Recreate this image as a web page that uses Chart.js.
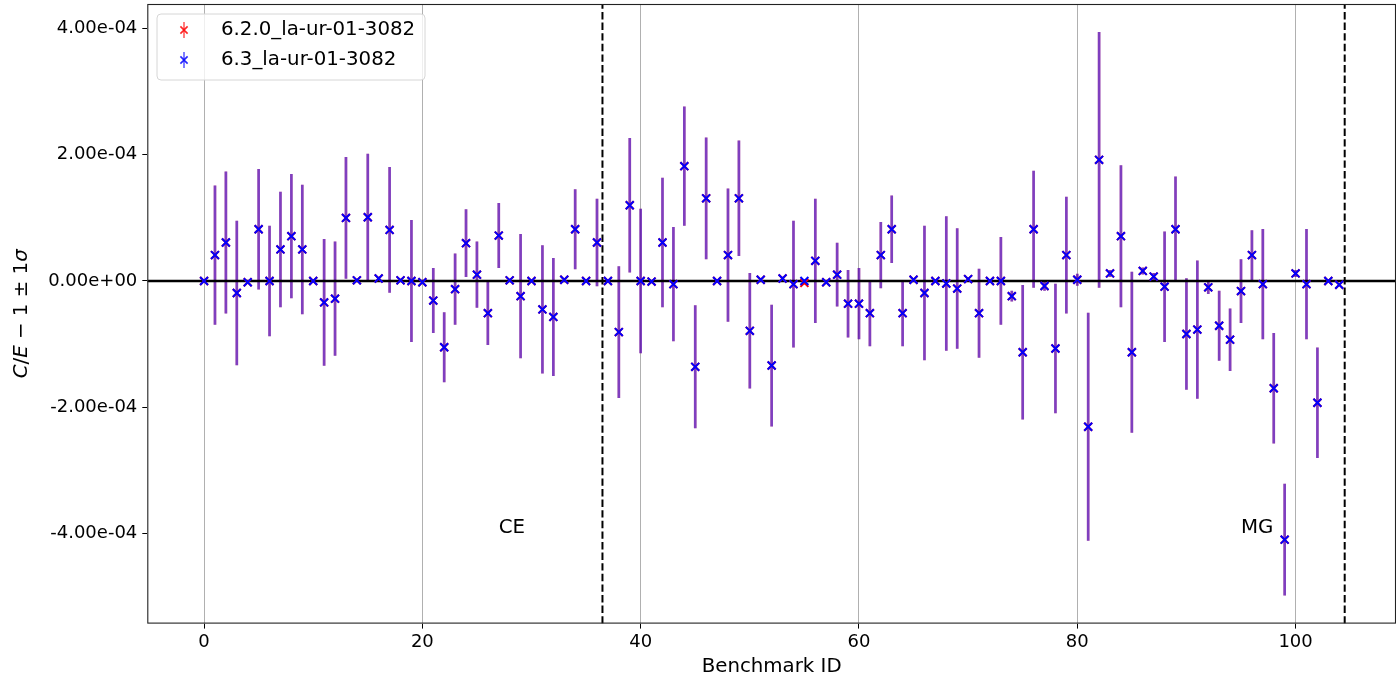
<!DOCTYPE html>
<html>
<head>
<meta charset="utf-8">
<script src="https://cdn.jsdelivr.net/npm/chart.js@4.4.1/dist/chart.umd.min.js"></script>
<style>
html,body{margin:0;padding:0;background:#ffffff;}
#wrap{width:1396px;height:679px;position:relative;}
</style>
</head>
<body>
<div id="wrap"><canvas id="c" width="1396" height="679"></canvas></div>
<script>
// ---------------- data ----------------
const benchmarkIds = [0,1,2,3,4,5,6,7,8,9,10,11,12,13,14,15,16,17,18,19,20,21,22,23,24,25,26,27,28,29,30,31,32,33,34,35,36,37,38,39,40,41,42,43,44,45,46,47,48,49,50,51,52,53,54,55,56,57,58,59,60,61,62,63,64,65,66,67,68,69,70,71,72,73,74,75,76,77,78,79,80,81,82,83,84,85,86,87,88,89,90,91,92,93,94,95,96,97,98,99,100,101,102,103,104];

// C/E - 1 for version 6.3
const ceV63 = [
  0.00e-4, 0.41e-4, 0.61e-4,-0.19e-4,-0.02e-4, 0.82e-4, 0.00e-4, 0.50e-4, 0.71e-4, 0.50e-4,
  0.00e-4,-0.34e-4,-0.28e-4, 1.00e-4, 0.01e-4, 1.01e-4, 0.04e-4, 0.81e-4, 0.01e-4, 0.00e-4,
 -0.02e-4,-0.31e-4,-1.05e-4,-0.13e-4, 0.60e-4, 0.10e-4,-0.51e-4, 0.72e-4, 0.01e-4,-0.24e-4,
  0.00e-4,-0.45e-4,-0.57e-4, 0.02e-4, 0.82e-4, 0.00e-4, 0.61e-4, 0.00e-4,-0.81e-4, 1.20e-4,
  0.00e-4,-0.01e-4, 0.61e-4,-0.05e-4, 1.82e-4,-1.36e-4, 1.31e-4, 0.00e-4, 0.41e-4, 1.31e-4,
 -0.79e-4, 0.02e-4,-1.34e-4, 0.04e-4,-0.05e-4, 0.00e-4, 0.32e-4,-0.02e-4, 0.10e-4,-0.36e-4,
 -0.36e-4,-0.51e-4, 0.41e-4, 0.82e-4,-0.51e-4, 0.02e-4,-0.19e-4, 0.00e-4,-0.04e-4,-0.12e-4,
  0.03e-4,-0.51e-4, 0.00e-4, 0.00e-4,-0.24e-4,-1.13e-4, 0.82e-4,-0.08e-4,-1.07e-4, 0.41e-4,
  0.02e-4,-2.31e-4, 1.92e-4, 0.12e-4, 0.71e-4,-1.13e-4, 0.16e-4, 0.07e-4,-0.09e-4, 0.82e-4,
 -0.84e-4,-0.77e-4,-0.10e-4,-0.71e-4,-0.93e-4,-0.16e-4, 0.41e-4,-0.05e-4,-1.70e-4,-4.10e-4,
  0.12e-4,-0.05e-4,-1.93e-4, 0.00e-4,-0.06e-4
];
// 1 sigma uncertainty for version 6.3
const sigmaV63 = [
  0.02e-4, 1.10e-4, 1.12e-4, 1.14e-4, 0.02e-4, 0.95e-4, 0.87e-4, 0.91e-4, 0.98e-4, 1.02e-4,
  0.02e-4, 1.00e-4, 0.90e-4, 0.96e-4, 0.02e-4, 1.00e-4, 0.02e-4, 0.99e-4, 0.02e-4, 0.96e-4,
  0.02e-4, 0.51e-4, 0.55e-4, 0.56e-4, 0.53e-4, 0.52e-4, 0.50e-4, 0.51e-4, 0.02e-4, 0.98e-4,
  0.02e-4, 1.01e-4, 0.93e-4, 0.02e-4, 0.63e-4, 0.02e-4, 0.69e-4, 0.02e-4, 1.04e-4, 1.06e-4,
  1.14e-4, 0.02e-4, 1.02e-4, 0.90e-4, 0.94e-4, 0.97e-4, 0.96e-4, 0.02e-4, 1.05e-4, 0.91e-4,
  0.91e-4, 0.02e-4, 0.96e-4, 0.02e-4, 1.00e-4, 0.02e-4, 0.98e-4, 0.02e-4, 0.50e-4, 0.53e-4,
  0.56e-4, 0.52e-4, 0.52e-4, 0.53e-4, 0.52e-4, 0.02e-4, 1.06e-4, 0.02e-4, 1.06e-4, 0.95e-4,
  0.02e-4, 0.70e-4, 0.02e-4, 0.69e-4, 0.08e-4, 1.06e-4, 0.92e-4, 0.07e-4, 1.02e-4, 0.92e-4,
  0.09e-4, 1.80e-4, 2.02e-4, 0.05e-4, 1.12e-4, 1.27e-4, 0.05e-4, 0.05e-4, 0.87e-4, 0.83e-4,
  0.88e-4, 1.09e-4, 0.10e-4, 0.55e-4, 0.49e-4, 0.50e-4, 0.39e-4, 0.87e-4, 0.87e-4, 0.88e-4,
  0.05e-4, 0.87e-4, 0.87e-4, 0.02e-4, 0.02e-4
];
// C/E - 1 for version 6.2.0 (mostly hidden under 6.3)
const ceV620 = [
  0.00e-4, 0.41e-4, 0.61e-4,-0.19e-4,-0.02e-4, 0.82e-4, 0.00e-4, 0.50e-4, 0.71e-4, 0.50e-4,
  0.00e-4,-0.34e-4,-0.28e-4, 1.00e-4, 0.01e-4, 1.01e-4, 0.04e-4, 0.81e-4, 0.01e-4, 0.00e-4,
 -0.02e-4,-0.31e-4,-1.05e-4,-0.13e-4, 0.60e-4, 0.10e-4,-0.51e-4, 0.72e-4, 0.01e-4,-0.24e-4,
  0.00e-4,-0.45e-4,-0.57e-4, 0.02e-4, 0.82e-4, 0.00e-4, 0.61e-4, 0.00e-4,-0.81e-4, 1.20e-4,
  0.00e-4,-0.01e-4, 0.61e-4,-0.05e-4, 1.82e-4,-1.36e-4, 1.31e-4, 0.00e-4, 0.41e-4, 1.31e-4,
 -0.79e-4, 0.02e-4,-1.34e-4, 0.04e-4,-0.05e-4,-0.03e-4, 0.32e-4,-0.02e-4, 0.10e-4,-0.36e-4,
 -0.36e-4,-0.51e-4, 0.41e-4, 0.82e-4,-0.51e-4, 0.02e-4,-0.19e-4, 0.00e-4,-0.04e-4,-0.12e-4,
  0.03e-4,-0.51e-4, 0.00e-4, 0.00e-4,-0.24e-4,-1.13e-4, 0.82e-4,-0.08e-4,-1.07e-4, 0.41e-4,
  0.02e-4,-2.31e-4, 1.92e-4, 0.12e-4, 0.71e-4,-1.13e-4, 0.16e-4, 0.07e-4,-0.09e-4, 0.82e-4,
 -0.84e-4,-0.77e-4,-0.10e-4,-0.71e-4,-0.93e-4,-0.16e-4, 0.41e-4,-0.05e-4,-1.70e-4,-4.10e-4,
  0.12e-4,-0.05e-4,-1.93e-4, 0.00e-4,-0.06e-4
];
const sigmaV620 = [
  0.02e-4, 1.10e-4, 1.12e-4, 1.14e-4, 0.02e-4, 0.95e-4, 0.87e-4, 0.91e-4, 0.98e-4, 1.02e-4,
  0.02e-4, 1.00e-4, 0.90e-4, 0.96e-4, 0.02e-4, 1.00e-4, 0.02e-4, 0.99e-4, 0.02e-4, 0.96e-4,
  0.02e-4, 0.51e-4, 0.55e-4, 0.56e-4, 0.53e-4, 0.52e-4, 0.50e-4, 0.51e-4, 0.02e-4, 0.98e-4,
  0.02e-4, 1.01e-4, 0.93e-4, 0.02e-4, 0.63e-4, 0.02e-4, 0.69e-4, 0.02e-4, 1.04e-4, 1.06e-4,
  1.14e-4, 0.02e-4, 1.02e-4, 0.90e-4, 0.94e-4, 0.97e-4, 0.96e-4, 0.02e-4, 1.05e-4, 0.91e-4,
  0.91e-4, 0.02e-4, 0.96e-4, 0.02e-4, 1.00e-4, 0.02e-4, 0.98e-4, 0.02e-4, 0.50e-4, 0.53e-4,
  0.56e-4, 0.52e-4, 0.52e-4, 0.53e-4, 0.52e-4, 0.02e-4, 1.06e-4, 0.02e-4, 1.06e-4, 0.95e-4,
  0.02e-4, 0.70e-4, 0.02e-4, 0.69e-4, 0.08e-4, 1.06e-4, 0.92e-4, 0.07e-4, 1.02e-4, 0.92e-4,
  0.09e-4, 1.80e-4, 2.02e-4, 0.05e-4, 1.12e-4, 1.27e-4, 0.05e-4, 0.05e-4, 0.87e-4, 0.83e-4,
  0.88e-4, 1.09e-4, 0.10e-4, 0.55e-4, 0.49e-4, 0.50e-4, 0.39e-4, 0.87e-4, 0.87e-4, 0.88e-4,
  0.05e-4, 0.87e-4, 0.87e-4, 0.02e-4, 0.02e-4
];

const seriesLabels = ['6.2.0_la-ur-01-3082', '6.3_la-ur-01-3082'];
const xTickValues = [0, 20, 40, 60, 80, 100];
const yTickValues = [-4e-4, -2e-4, 0, 2e-4, 4e-4];
const sectionBoundaries = [36.5, 104.5];
const sectionLabels = [{text: 'CE', x: 27, y: -4e-4}, {text: 'MG', x: 95, y: -4e-4}];
const xLimits = [-5.2, 109.2];
const yLimits = [-5.43e-4, 4.39e-4];

// ---------------- helpers ----------------
function pts(vals) { return vals.map((v, i) => ({x: benchmarkIds[i], y: v})); }
function errBars(vals, sig) { return vals.map((v, i) => ({x: benchmarkIds[i], y: [v - sig[i], v + sig[i]]})); }
function fmtExp(v) {
  const s = Number(v).toExponential(2);
  return s.replace(/e([+-])(\d)$/, 'e$10$2');
}

Chart.defaults.font.family = "'DejaVu Sans', sans-serif";
Chart.defaults.color = '#000000';

const FONT_TICK = 18;
const FONT_LABEL = 19.8;

const decor = {
  id: 'decor',
  afterDatasetsDraw(chart) {
    const ctx = chart.ctx, ca = chart.chartArea;
    const xs = chart.scales.x, ys = chart.scales.y;
    ctx.save();
    // section labels
    ctx.fillStyle = '#000';
    ctx.font = FONT_LABEL + "px 'DejaVu Sans'";
    ctx.textAlign = 'left';
    ctx.textBaseline = 'alphabetic';
    sectionLabels.forEach(l => {
      ctx.fillText(l.text, xs.getPixelForValue(l.x), ys.getPixelForValue(l.y));
    });
    // frame
    ctx.strokeStyle = '#222';
    ctx.lineWidth = 1.1;
    ctx.strokeRect(ca.left + 0.5, ca.top + 0.5, ca.right - ca.left - 1, ca.bottom - ca.top - 1);
    // legend
    const bx = 157, by = 14, bw = 268, bh = 66, r = 4;
    ctx.beginPath();
    ctx.moveTo(bx + r, by);
    ctx.lineTo(bx + bw - r, by); ctx.quadraticCurveTo(bx + bw, by, bx + bw, by + r);
    ctx.lineTo(bx + bw, by + bh - r); ctx.quadraticCurveTo(bx + bw, by + bh, bx + bw - r, by + bh);
    ctx.lineTo(bx + r, by + bh); ctx.quadraticCurveTo(bx, by + bh, bx, by + bh - r);
    ctx.lineTo(bx, by + r); ctx.quadraticCurveTo(bx, by, bx + r, by);
    ctx.closePath();
    ctx.fillStyle = 'rgba(255,255,255,0.8)';
    ctx.fill();
    ctx.strokeStyle = '#d6d6d6';
    ctx.lineWidth = 1;
    ctx.stroke();
    const entries = [
      {label: seriesLabels[0], bar: 'rgba(255,0,0,0.5)', mk: 'rgba(255,0,0,0.85)', y: 30},
      {label: seriesLabels[1], bar: 'rgba(0,0,255,0.5)', mk: 'rgba(0,0,255,0.85)', y: 60}
    ];
    entries.forEach(e => {
      const mx = 184;
      ctx.strokeStyle = e.bar; ctx.lineWidth = 2;
      ctx.beginPath(); ctx.moveTo(mx, e.y - 8); ctx.lineTo(mx, e.y + 8); ctx.stroke();
      ctx.strokeStyle = e.mk; ctx.lineWidth = 1.6;
      const d = 3.6;
      ctx.beginPath();
      ctx.moveTo(mx - d, e.y - d); ctx.lineTo(mx + d, e.y + d);
      ctx.moveTo(mx - d, e.y + d); ctx.lineTo(mx + d, e.y - d);
      ctx.stroke();
      ctx.fillStyle = '#000';
      ctx.font = FONT_LABEL + "px 'DejaVu Sans'";
      ctx.textAlign = 'left';
      ctx.textBaseline = 'middle';
      ctx.fillText(e.label, 221, e.y);
    });
    // y axis label (mathtext style)
    const parts = [
      {t: 'C', it: true}, {t: '/', it: false}, {t: 'E', it: true},
      {t: ' \u2212 1 \u00b1 1', it: false}, {t: '\u03c3', it: true}
    ];
    const fIt = 'italic ' + FONT_LABEL + "px 'DejaVu Sans'";
    const fUp = FONT_LABEL + "px 'DejaVu Sans'";
    let total = 0;
    parts.forEach(p => { ctx.font = p.it ? fIt : fUp; p.w = ctx.measureText(p.t).width; total += p.w; });
    ctx.translate(22, (ca.top + ca.bottom) / 2);
    ctx.rotate(-Math.PI / 2);
    ctx.textAlign = 'left';
    ctx.textBaseline = 'middle';
    let cx = -total / 2;
    parts.forEach(p => { ctx.font = p.it ? fIt : fUp; ctx.fillText(p.t, cx, 0); cx += p.w; });
    ctx.restore();
  }
};

const ctx = document.getElementById('c').getContext('2d');
new Chart(ctx, {
  type: 'scatter',
  data: {
    datasets: [
      {
        type: 'scatter', label: seriesLabels[1], data: pts(ceV63), order: 0,
        pointStyle: 'crossRot', pointRadius: 5.6, pointHoverRadius: 5.6,
        pointBorderWidth: 2, borderColor: '#0000ff', backgroundColor: '#0000ff', showLine: false
      },
      {
        type: 'scatter', label: seriesLabels[0], data: pts(ceV620), order: 1,
        pointStyle: 'crossRot', pointRadius: 5.6, pointHoverRadius: 5.6,
        pointBorderWidth: 2, borderColor: '#ff0000', backgroundColor: '#ff0000', showLine: false
      },
      {
        type: 'line', label: 'zero', data: [{x: xLimits[0], y: 0}, {x: xLimits[1], y: 0}], order: 2,
        borderColor: '#000000', borderWidth: 2.6, pointRadius: 0, showLine: true, fill: false
      },
      {
        type: 'bar', label: seriesLabels[1] + ' err', data: errBars(ceV63, sigmaV63), order: 3,
        backgroundColor: 'rgba(0,0,255,0.5)', borderWidth: 0, barThickness: 2, grouped: false
      },
      {
        type: 'bar', label: seriesLabels[0] + ' err', data: errBars(ceV620, sigmaV620), order: 4,
        backgroundColor: 'rgba(255,0,0,0.5)', borderWidth: 0, barThickness: 2, grouped: false
      },
      ...sectionBoundaries.map((b, k) => ({
        type: 'line', label: 'boundary' + k, data: [{x: b, y: yLimits[0]}, {x: b, y: yLimits[1]}], order: 5,
        borderColor: '#000000', borderWidth: 2, borderDash: [7.4, 3.2], pointRadius: 0, showLine: true, fill: false
      }))
    ]
  },
  options: {
    responsive: false,
    animation: false,
    devicePixelRatio: 1,
    events: [],
    layout: {autoPadding: false, padding: {top: 4, right: 0, bottom: 0, left: 0}},
    plugins: {legend: {display: false}, tooltip: {enabled: false}},
    scales: {
      x: {
        type: 'linear', min: xLimits[0], max: xLimits[1], offset: false,
        grid: {display: true, drawOnChartArea: true, drawTicks: true, tickLength: 5,
               color: '#b0b0b0', lineWidth: 1, tickColor: '#000000', tickWidth: 1, offset: false},
        border: {display: false},
        ticks: {font: {size: FONT_TICK}, color: '#000', padding: 3, maxRotation: 0, autoSkip: false,
                callback: v => String(v)},
        title: {display: true, text: 'Benchmark ID', font: {size: FONT_LABEL}, color: '#000',
                padding: {top: 0, bottom: 0}},
        afterBuildTicks: s => { s.ticks = xTickValues.map(v => ({value: v})); },
        afterFit: s => { s.height = 55.4; s.paddingLeft = 0; s.paddingRight = 0; s.paddingTop = 0; s.paddingBottom = 0; }
      },
      y: {
        type: 'linear', min: yLimits[0], max: yLimits[1],
        grid: {display: true, drawOnChartArea: false, drawTicks: true, tickLength: 5,
               tickColor: '#000000', tickWidth: 1},
        border: {display: false},
        ticks: {font: {size: FONT_TICK}, color: '#000', padding: 5, autoSkip: false,
                callback: v => fmtExp(v)},
        title: {display: false},
        afterBuildTicks: s => { s.ticks = yTickValues.map(v => ({value: v})); },
        afterFit: s => { s.width = 147.3; s.paddingLeft = 0; s.paddingRight = 0; s.paddingTop = 0; s.paddingBottom = 0; }
      }
    }
  },
  plugins: [decor]
});
</script>
</body>
</html>
